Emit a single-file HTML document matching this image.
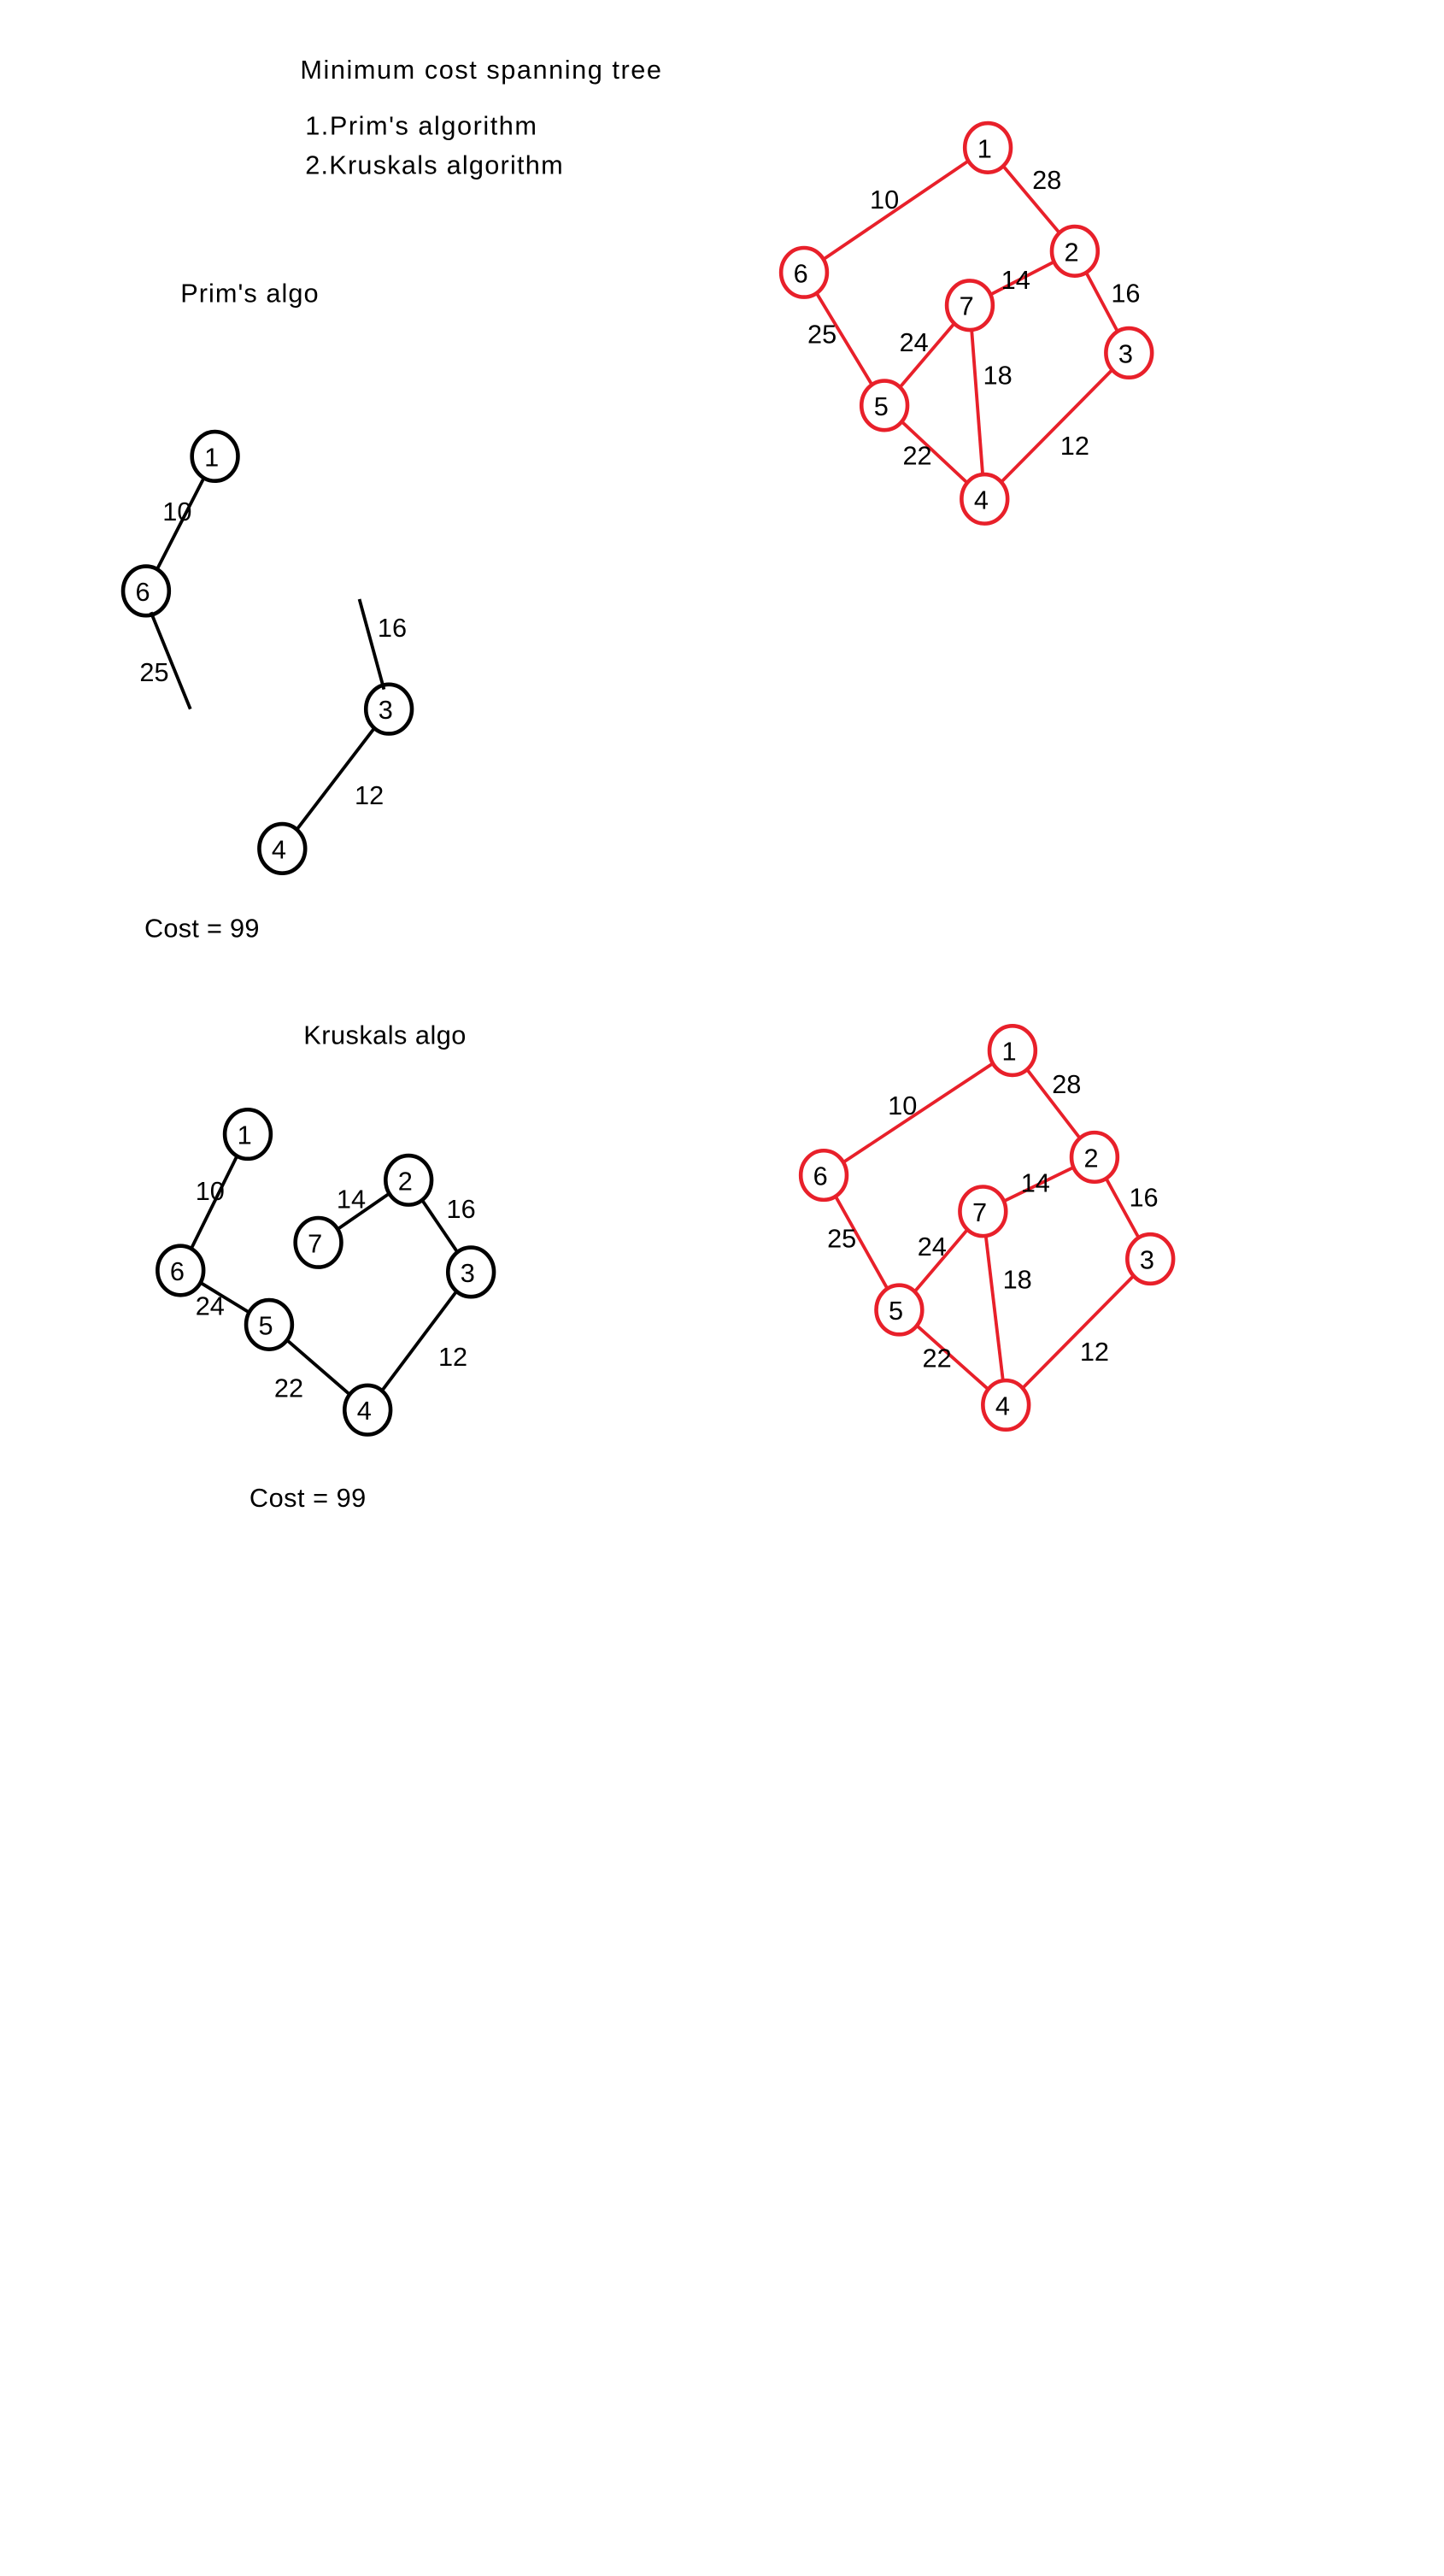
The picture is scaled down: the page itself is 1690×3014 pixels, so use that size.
<!DOCTYPE html>
<html><head><meta charset="utf-8"><style>
html,body{margin:0;padding:0;background:#fff}
svg{display:block}
text{font-family:"Liberation Sans",sans-serif;fill:#000}
</style></head><body>
<svg id="s" width="1690" height="3014" viewBox="0 0 880 1569.4" preserveAspectRatio="none" xmlns="http://www.w3.org/2000/svg">
<text x="183" y="48" font-size="16" textLength="220">Minimum cost spanning tree</text>
<text x="186" y="82" font-size="16" textLength="141">1.Prim's algorithm</text>
<text x="186" y="106" font-size="16" textLength="157">2.Kruskals algorithm</text>
<text x="110" y="184" font-size="16" textLength="84">Prim's algo</text>
<text x="88" y="571" font-size="16" textLength="70">Cost = 99</text>
<text x="185" y="636" font-size="16" textLength="99">Kruskals algo</text>
<text x="152" y="918" font-size="16" textLength="71">Cost = 99</text>
</svg>
<script>
const NS="http://www.w3.org/2000/svg";
const svg=document.getElementById('s');
// graphs: node ids, positions, edges [a,b,weight,labelX,labelY]
const g1Nodes=[[1,602,90],[2,655,153],[3,688,215],[4,600,304],[5,539,247],[6,490,166],[7,591,186]];
const g1Edges=[[1,6,10,539,121],[1,2,28,638,109],[2,7,14,619,170],[2,3,16,686,178],[7,5,24,557,208],[7,4,18,608,228],[6,5,25,501,203],[5,4,22,559,277],[3,4,12,655,271]];
const g2Nodes=[[1,617,640],[2,667,705],[3,701,767],[4,613,856],[5,548,798],[6,502,716],[7,599,738]];
const g2Edges=[[1,6,10,550,673],[1,2,28,650,660],[2,7,14,631,720],[2,3,16,697,729],[7,5,24,568,759],[7,4,18,620,779],[6,5,25,513,754],[5,4,22,571,827],[3,4,12,667,823]];
const pNodes=[[1,131,278],[6,89,360],[3,237,432],[4,172,517]];
const pEdges=[[1,6,10,108,311],[3,4,12,225,484]];
const pStubs=[[92,373,116,432,25,94,409],[219,365,234,420,16,239,382]];
const kNodes=[[1,151,691],[6,110,774],[2,249,719],[7,194,757],[3,287,775],[5,164,807],[4,224,859]];
const kEdges=[[1,6,10,128,725],[2,7,14,214,730],[2,3,16,281,736],[6,5,24,128,795],[5,4,22,176,845],[3,4,12,276,826]];
function line(x1,y1,x2,y2,c,name){const l=document.createElementNS(NS,'line');
l.setAttribute('x1',x1);l.setAttribute('y1',y1);l.setAttribute('x2',x2);l.setAttribute('y2',y2);
l.setAttribute('stroke',c);l.setAttribute('stroke-width','2');


svg.appendChild(l);}
function label(x,y,t,name){const e=document.createElementNS(NS,'text');
e.setAttribute('x',x);e.setAttribute('y',y+6);e.setAttribute('font-size','16');e.setAttribute('text-anchor','middle');
e.textContent=t;


svg.appendChild(e);}
function draw(nodes,edges,c,prefix){
 const m={};nodes.forEach(n=>m[n[0]]=n);
 edges.forEach(e=>{const a=m[e[0]],b=m[e[1]];line(a[1],a[2],b[1],b[2],c,prefix+'-edge-'+e[0]+'-'+e[1]);});
 nodes.forEach(n=>{const el=document.createElementNS(NS,'ellipse');
  el.setAttribute('cx',n[1]);el.setAttribute('cy',n[2]);el.setAttribute('rx','14');el.setAttribute('ry','15');
  el.setAttribute('fill','#fff');el.setAttribute('stroke',c);el.setAttribute('stroke-width','2.4');
  
  
  svg.appendChild(el);
  label(n[1]-2,n[2],n[0],prefix+'-node-label-'+n[0]);});
 edges.forEach(e=>label(e[3],e[4],e[2],prefix+'-weight-'+e[2]));
}
draw(g1Nodes,g1Edges,'#e8202a','graph-top');
draw(g2Nodes,g2Edges,'#e8202a','graph-bottom');
draw(pNodes,pEdges,'#000','prim');
pStubs.forEach(s=>{line(s[0],s[1],s[2],s[3],'#000','prim-stub-'+s[4]);label(s[5],s[6],s[4],'prim-weight-'+s[4]);});
draw(kNodes,kEdges,'#000','kruskal');
</script>
</body></html>
